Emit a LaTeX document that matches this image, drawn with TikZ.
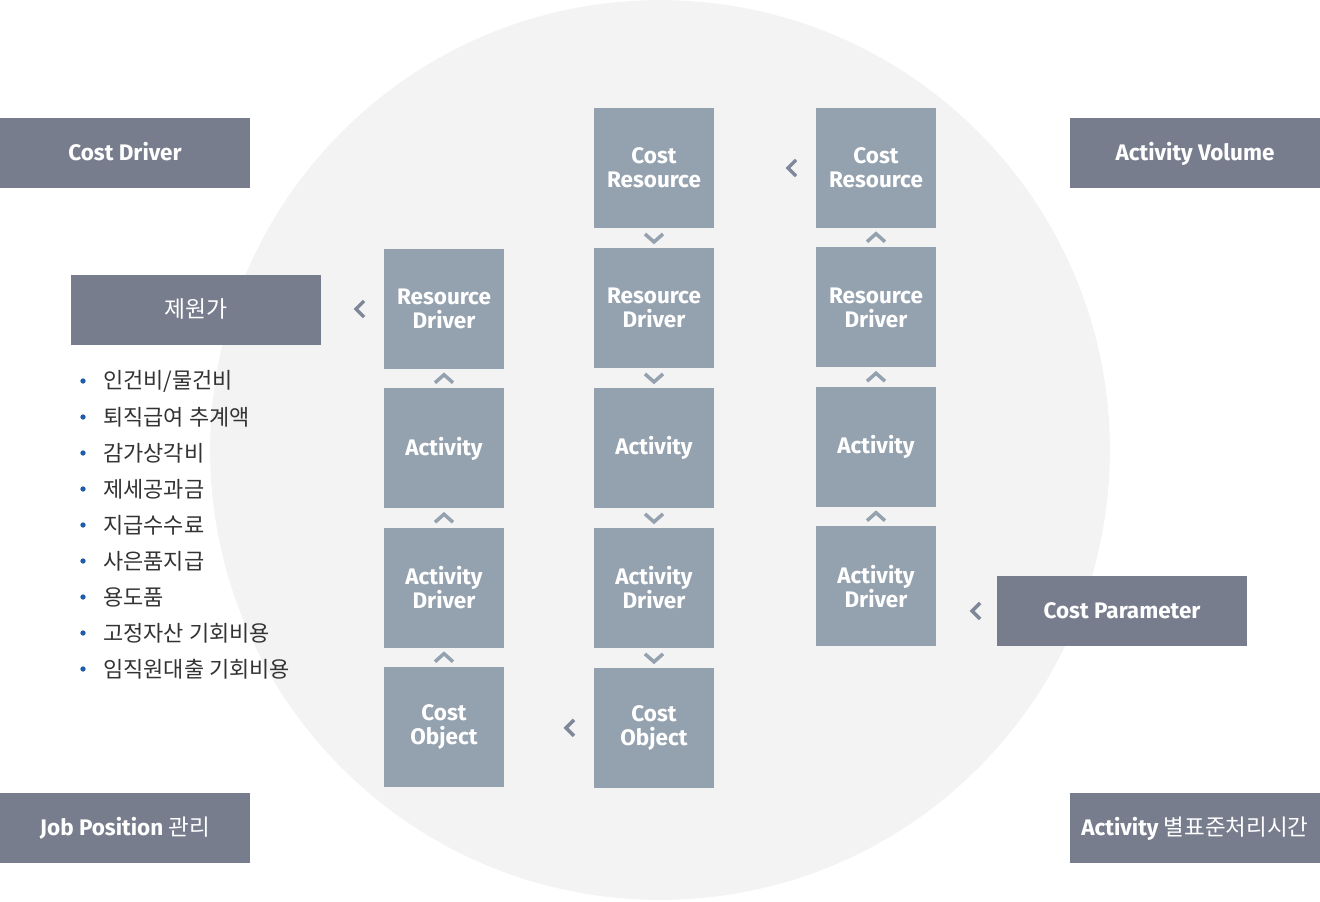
\documentclass[tikz,border=0pt]{standalone}
\usepackage{fontspec}
\setmainfont{Fira Sans}
\newfontfamily\kr{Noto Sans CJK KR}
\usepackage{tikz}
\usetikzlibrary{positioning,calc}
\definecolor{circlegray}{HTML}{F3F3F3}
\definecolor{slate}{HTML}{787D8D}
\definecolor{steel}{HTML}{94A1AF}
\definecolor{chevdark}{HTML}{7E8898}
\definecolor{bulletblue}{HTML}{1F5CAA}
\definecolor{listtext}{HTML}{333333}

\tikzset{
  darkbox/.style={fill=slate, text=white, minimum width=5cm, minimum height=1.4cm,
    inner sep=0pt, outer sep=0pt, text height=1.06em, text depth=0.2em,
    font=\bfseries\fontsize{12.8}{14}\selectfont},
  flowbox/.style={fill=steel, text=white, minimum width=2.4cm, minimum height=2.4cm,
    inner sep=0pt, outer sep=0pt, align=center, font=\bfseries\fontsize{12.8}{13.6}\selectfont},
  chevline/.style={draw=steel, line width=0.07cm},
  chevup/.pic={\draw[chevline] (-9,4) -- (0,-4) -- (9,4);},
  chevdown/.pic={\draw[chevline] (-9,-4) -- (0,4) -- (9,-4);},
  chevleft/.pic={\draw[chevline, draw=chevdark] (4,-8) -- (-4,0) -- (4,8);},
  item/.style={anchor=west, text=listtext, inner sep=0pt,
    font=\kr\fontsize{12.5}{14}\selectfont},
}

\begin{document}
\begin{tikzpicture}[x=0.02cm, y=-0.02cm]
\useasboundingbox (0,0) rectangle (1320,902);

% background disc
\fill[circlegray] (660,450) circle (9cm);

% outer labels
\node[darkbox] (costdrv) at (125,153) {Cost Driver};
\node[darkbox] (jewon) at (196,310) {\kr\mdseries\fontsize{13}{14}\selectfont 제원가};
\node[darkbox] (jobpos) at (125,828) {Job Position {\kr\mdseries 관리}};
\node[darkbox] (actvol) at (1195,153) {Activity Volume};
\node[darkbox] (costpar) at (1122,611) {Cost Parameter};
\node[darkbox] (actstd) at (1195,828) {Activity {\kr\mdseries 별표준처리시간}};

% cost items
\foreach \t [count=\i] in {인건비/물건비, 퇴직급여 추계액, 감가상각비, 제세공과금, 지급수수료,
    사은품지급, 용도품, 고정자산 기회비용, 임직원대출 기회비용} {
  \node[item] (item\i) at (103,345+36*\i) {\t};
  \fill[bulletblue] ([xshift=-0.4cm]item\i.west) circle (1.5pt);
}

% left column
\node[flowbox] (rdA) at (444,309) {Resource\\Driver};
\node[flowbox, below=0.39cm of rdA] (acA) {Activity};
\node[flowbox, below=0.39cm of acA] (adA) {Activity\\Driver};
\node[flowbox, below=0.39cm of adA] (coA) {Cost\\Object};

% middle column
\node[flowbox] (crB) at (654,168) {Cost\\Resource};
\node[flowbox, below=0.4cm of crB] (rdB) {Resource\\Driver};
\node[flowbox, below=0.4cm of rdB] (acB) {Activity};
\node[flowbox, below=0.4cm of acB] (adB) {Activity\\Driver};
\node[flowbox, below=0.4cm of adB] (coB) {Cost\\Object};

% right column
\node[flowbox] (crC) at (876,168) {Cost\\Resource};
\node[flowbox, below=0.39cm of crC] (rdC) {Resource\\Driver};
\node[flowbox, below=0.39cm of rdC] (acC) {Activity};
\node[flowbox, below=0.39cm of acC] (adC) {Activity\\Driver};

% chevrons between boxes
\pic at ($(rdA.south)!.5!(acA.north)$) {chevup};
\pic at ($(acA.south)!.5!(adA.north)$) {chevup};
\pic at ($(adA.south)!.5!(coA.north)$) {chevup};

\pic at ($(crB.south)!.5!(rdB.north)$) {chevdown};
\pic at ($(rdB.south)!.5!(acB.north)$) {chevdown};
\pic at ($(acB.south)!.5!(adB.north)$) {chevdown};
\pic at ($(adB.south)!.5!(coB.north)$) {chevdown};

\pic at ($(crC.south)!.5!(rdC.north)$) {chevup};
\pic at ($(rdC.south)!.5!(acC.north)$) {chevup};
\pic at ($(acC.south)!.5!(adC.north)$) {chevup};

\pic at ([xshift=-0.48cm]rdA.west) {chevleft};
\pic at ([xshift=-0.48cm]crC.west) {chevleft};
\pic at ([xshift=-0.48cm]coB.west) {chevleft};
\pic at ([xshift=-0.42cm]costpar.west) {chevleft};
\end{tikzpicture}
\end{document}
